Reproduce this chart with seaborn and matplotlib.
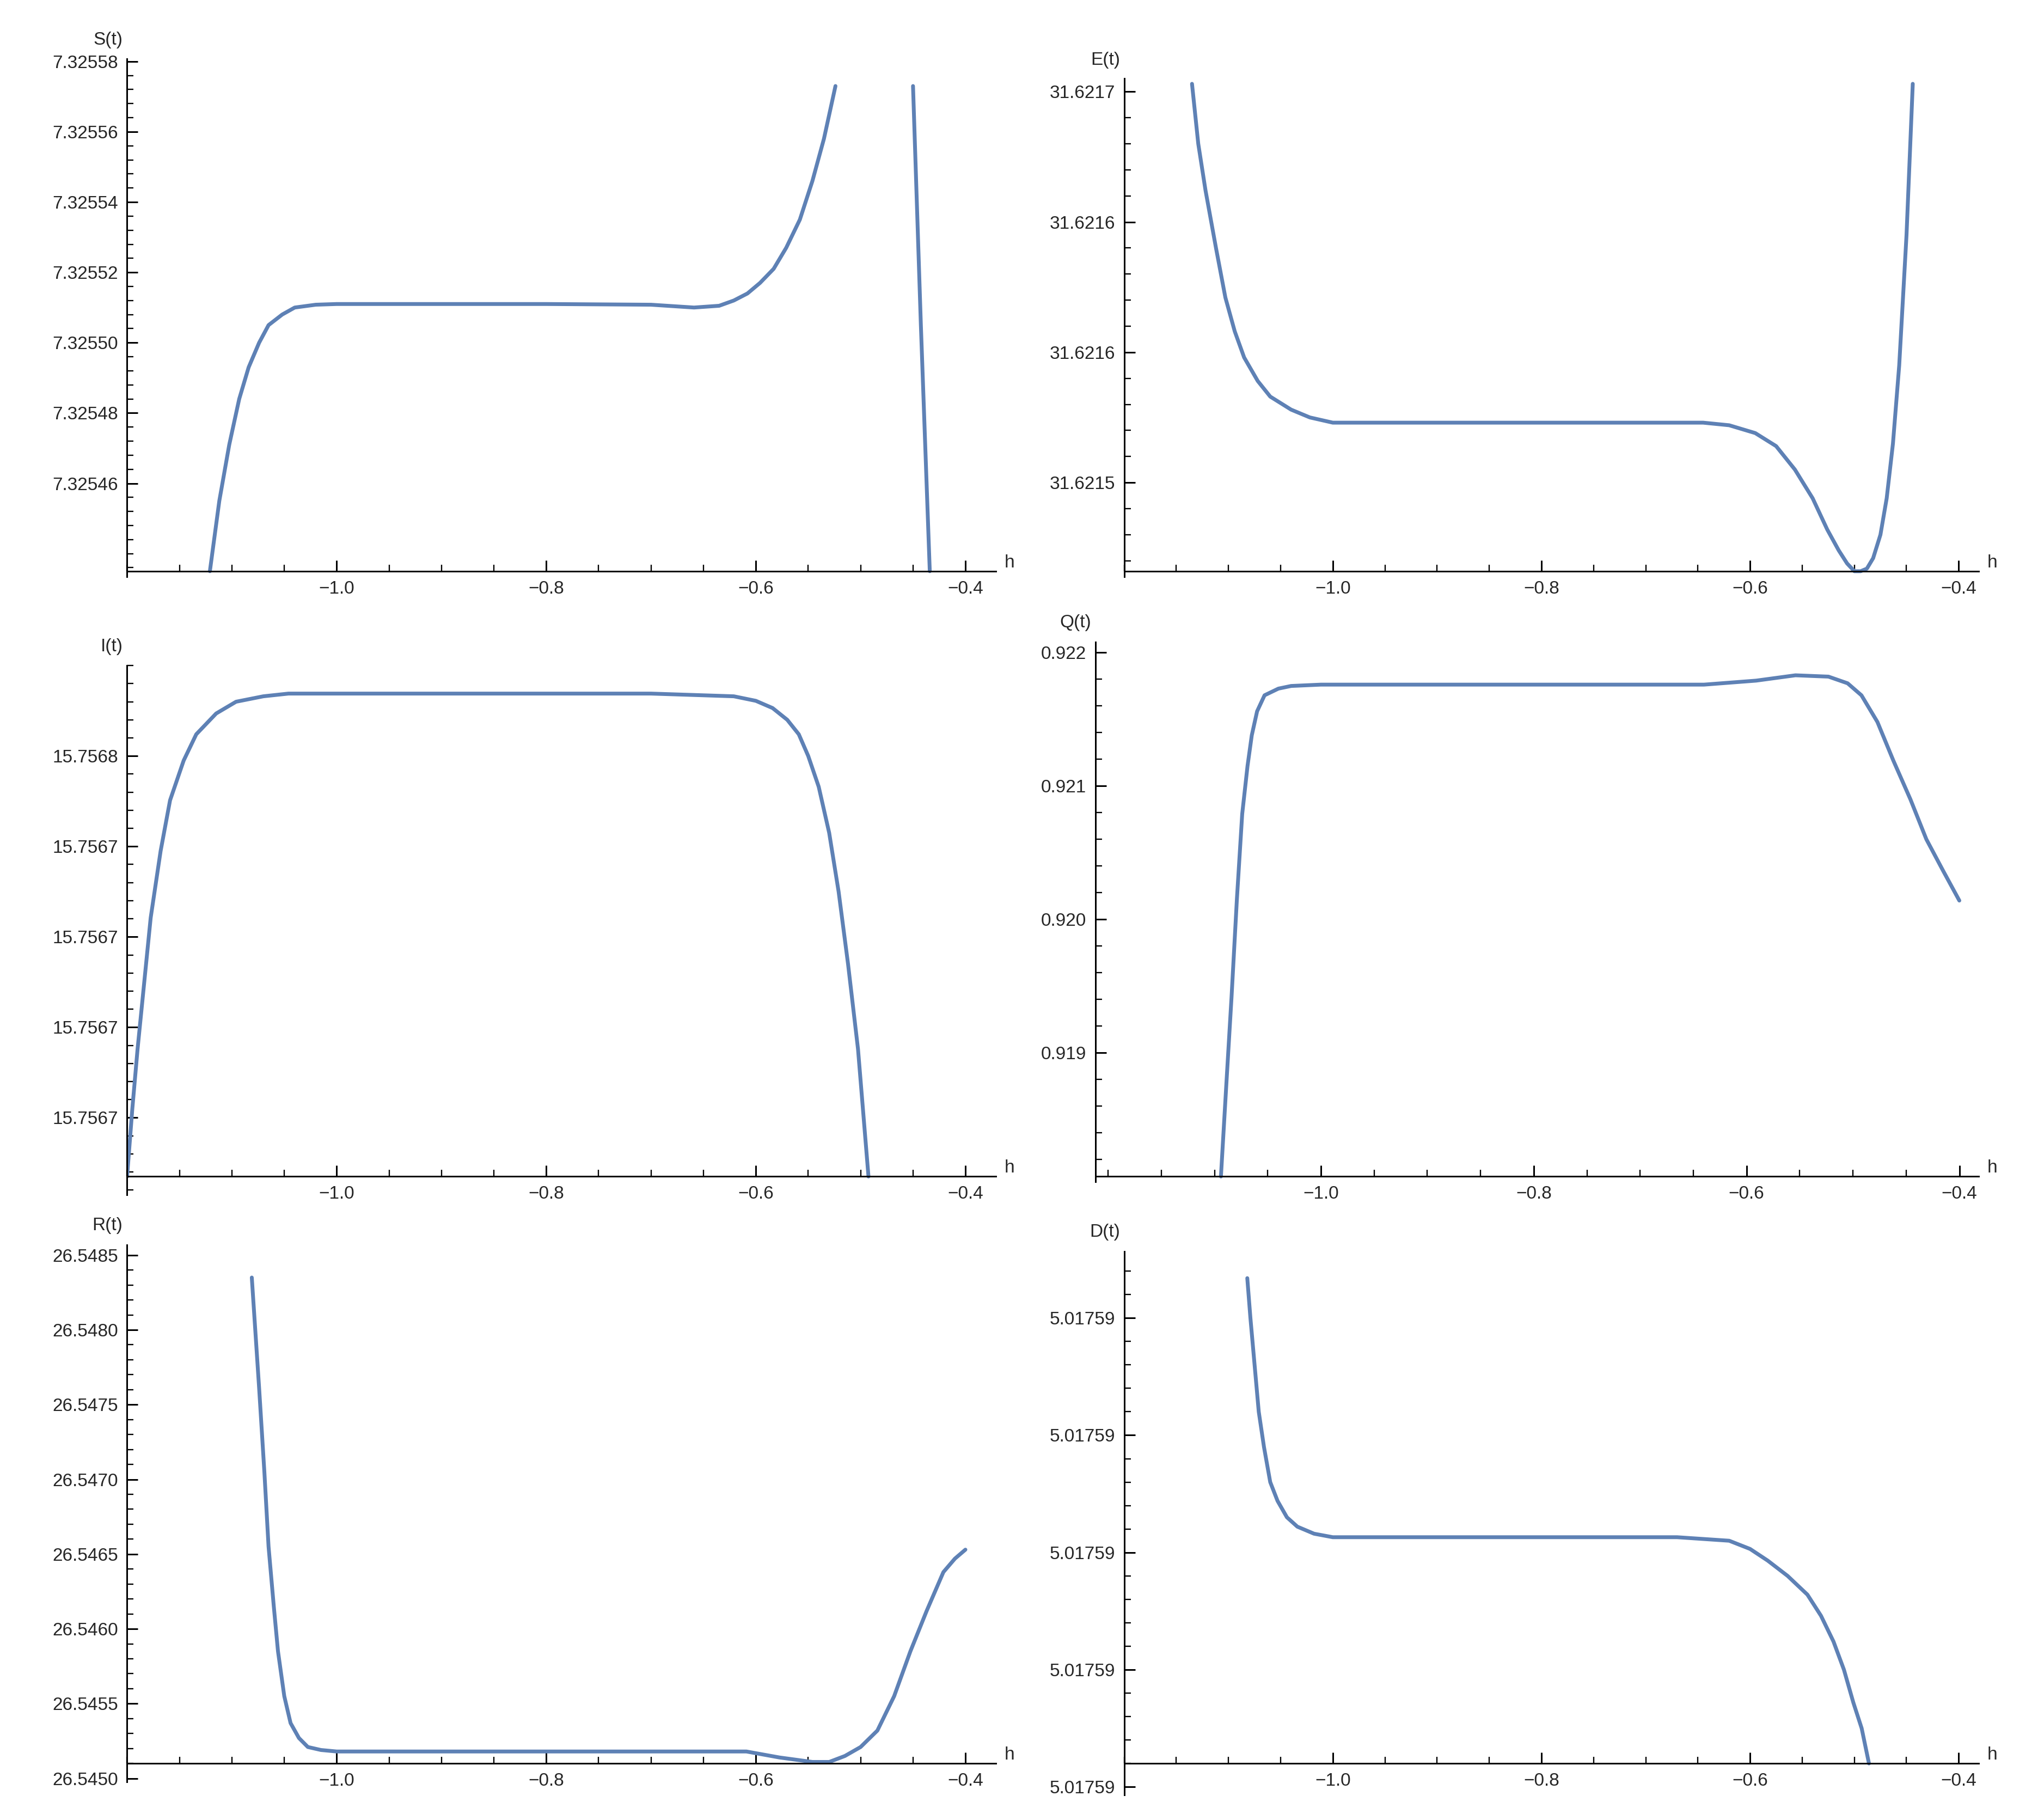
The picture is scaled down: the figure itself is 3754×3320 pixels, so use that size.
import numpy as np
import pandas as pd
import matplotlib
matplotlib.use("Agg")
import matplotlib.pyplot as plt
import seaborn as sns
from matplotlib.ticker import FixedLocator, FixedFormatter, AutoMinorLocator

sns.set_style("white")
plt.rcParams['font.family'] = ['Liberation Sans', 'DejaVu Sans']
plt.rcParams['font.size'] = 10

COLOR = "#5e81b5"

# ---- data ----
S_h1 = [-1.121, -1.112, -1.1025, -1.093, -1.084, -1.074, -1.065, -1.052, -1.04, -1.02, -1.0, -0.9, -0.8, -0.7, -0.659, -0.635, -0.621, -0.608, -0.596, -0.583, -0.571, -0.558, -0.546, -0.535, -0.524]
S_v1 = [7.325435, 7.325455, 7.325471, 7.325484, 7.325493, 7.325500, 7.325505, 7.325508, 7.325510, 7.3255108, 7.325511, 7.325511, 7.325511, 7.3255108, 7.325510, 7.3255105, 7.325512, 7.325514, 7.325517, 7.325521, 7.325527, 7.325535, 7.325546, 7.325558, 7.325573]
S_h2 = [-0.45, -0.4425, -0.434]
S_v2 = [7.325573, 7.325505, 7.325435]

E_h = [-1.135, -1.129, -1.122, -1.112, -1.103, -1.094, -1.085, -1.072, -1.06, -1.04, -1.022, -1.0, -0.9, -0.8, -0.7, -0.645, -0.62, -0.595, -0.575, -0.557, -0.54, -0.526, -0.515, -0.507, -0.5, -0.494, -0.488, -0.482, -0.475, -0.469, -0.463, -0.457, -0.45, -0.444]
E_v = [31.621703, 31.621680, 31.621662, 31.621640, 31.621621, 31.621608, 31.621598, 31.621589, 31.621583, 31.621578, 31.621575, 31.621573, 31.621573, 31.621573, 31.621573, 31.621573, 31.621572, 31.621569, 31.621564, 31.621555, 31.621544, 31.621532, 31.621524, 31.621519, 31.621516, 31.621516, 31.621517, 31.621521, 31.621530, 31.621544, 31.621565, 31.621595, 31.621645, 31.621703]

I_h = [-1.2, -1.195, -1.19, -1.1775, -1.168, -1.159, -1.146, -1.134, -1.115, -1.096, -1.07, -1.046, -0.9, -0.8, -0.7, -0.621, -0.6, -0.584, -0.57, -0.559, -0.55, -0.54, -0.53, -0.521, -0.512, -0.5025, -0.4925]
I_v = [15.7567035, 15.7567110, 15.7567176, 15.7567321, 15.7567395, 15.7567451, 15.7567495, 15.7567524, 15.7567547, 15.7567560, 15.7567566, 15.7567569, 15.7567569, 15.7567569, 15.7567569, 15.7567566, 15.7567561, 15.7567553, 15.7567540, 15.7567524, 15.7567500, 15.7567466, 15.7567415, 15.7567350, 15.7567270, 15.7567176, 15.7567035]

Q_h = [-1.094, -1.089, -1.084, -1.079, -1.074, -1.069, -1.065, -1.06, -1.053, -1.04, -1.028, -1.0, -0.9, -0.8, -0.7, -0.64, -0.591, -0.554, -0.523, -0.505, -0.492, -0.477, -0.462, -0.446, -0.431, -0.415, -0.4]
Q_v = [0.91807, 0.91875, 0.91942, 0.92015, 0.92079, 0.92115, 0.92138, 0.92156, 0.92168, 0.92173, 0.92175, 0.92176, 0.92176, 0.92176, 0.92176, 0.92176, 0.92179, 0.92183, 0.92182, 0.92177, 0.92168, 0.92148, 0.92119, 0.92090, 0.92060, 0.92036, 0.92014]

R_h = [-1.081, -1.074, -1.069, -1.065, -1.06, -1.056, -1.05, -1.044, -1.036, -1.0275, -1.015, -1.0, -0.9, -0.8, -0.7, -0.609, -0.5775, -0.546, -0.53, -0.515, -0.5, -0.484, -0.468, -0.4525, -0.437, -0.421, -0.41, -0.4]
R_v = [26.54835, 26.54761, 26.54705, 26.54655, 26.54615, 26.54585, 26.54555, 26.54537, 26.54527, 26.54521, 26.54519, 26.54518, 26.54518, 26.54518, 26.54518, 26.54518, 26.54514, 26.54511, 26.54511, 26.54515, 26.54521, 26.54532, 26.54555, 26.54585, 26.54612, 26.54638, 26.54647, 26.54653]

D_h = [-1.082, -1.079, -1.075, -1.071, -1.066, -1.06, -1.053, -1.044, -1.034, -1.018, -1.0, -0.9, -0.8, -0.67, -0.62, -0.6, -0.583, -0.564, -0.545, -0.532, -0.52, -0.51, -0.501, -0.493, -0.486]
D_v = [5.01759034, 5.0175900, 5.0175896, 5.0175892, 5.0175889, 5.0175886, 5.01758844, 5.0175883, 5.01758822, 5.01758816, 5.01758813, 5.01758813, 5.01758813, 5.01758813, 5.0175881, 5.01758803, 5.01758793, 5.0175878, 5.01758764, 5.01758746, 5.01758724, 5.017587, 5.01758672, 5.0175865, 5.0175862]

x_ticks = [-1.0, -0.8, -0.6, -0.4]
x_labels = ["\u22121.0", "\u22120.8", "\u22120.6", "\u22120.4"]

S_ticks = [7.32546, 7.32548, 7.32550, 7.32552, 7.32554, 7.32556, 7.32558]
S_labels = ["7.32546", "7.32548", "7.32550", "7.32552", "7.32554", "7.32556", "7.32558"]
E_ticks = [31.62155, 31.62160, 31.62165, 31.62170]
E_labels = ["31.6215", "31.6216", "31.6216", "31.6217"]
I_ticks = [15.75671, 15.75672, 15.75673, 15.75674, 15.75675]
I_labels = ["15.7567", "15.7567", "15.7567", "15.7567", "15.7568"]
Q_ticks = [0.919, 0.920, 0.921, 0.922]
Q_labels = ["0.919", "0.920", "0.921", "0.922"]
R_ticks = [26.5450, 26.5455, 26.5460, 26.5465, 26.5470, 26.5475, 26.5480, 26.5485]
R_labels = ["26.5450", "26.5455", "26.5460", "26.5465", "26.5470", "26.5475", "26.5480", "26.5485"]
D_ticks = [5.017586, 5.017587, 5.017588, 5.017589, 5.017590]
D_labels = ["5.01759"] * 5

W, H = 1560.0, 1380.0
fig = plt.figure(figsize=(3754 / 240, 3320 / 240), dpi=240)

# name, series, ticks, labels, px_top, px_axis, v_top, v_axis, px_left, px_right, xmin, xmax, extra_bottom_px
panels = [
    ("S(t)", [(S_h1, S_v1), (S_h2, S_v2)], S_ticks, S_labels, 45, 436, 7.3255807, 7.325435, 97, 760, -1.2, -0.371, 4),
    ("E(t)", [(E_h, E_v)], E_ticks, E_labels, 60, 436, 31.621705, 31.621516, 858, 1510, -1.2, -0.381, 4),
    ("I(t)", [(I_h, I_v)], I_ticks, I_labels, 508, 898, 15.75676, 15.7567035, 97, 760, -1.2, -0.371, 14),
    ("Q(t)", [(Q_h, Q_v)], Q_ticks, Q_labels, 490, 898, 0.92208, 0.91807, 836, 1510, -1.212, -0.382, 4),
    ("R(t)", [(R_h, R_v)], R_ticks, R_labels, 950, 1346, 26.54857, 26.54510, 97, 760, -1.2, -0.371, 14),
    ("D(t)", [(D_h, D_v)], D_ticks, D_labels, 955, 1346, 5.01759057, 5.0175862, 858, 1510, -1.2, -0.381, 24),
]

for name, series, ticks, labels, pt, pa, vt, va, pl, pr, xmin, xmax, extra in panels:
    pb = pa + extra
    vb = va - (vt - va) * extra / (pa - pt)
    ax = fig.add_axes([pl / W, 1 - pb / H, (pr - pl) / W, (pb - pt) / H])
    for hs, vs in series:
        df = pd.DataFrame({"h": hs, "v": vs})
        sns.lineplot(data=df, x="h", y="v", ax=ax, sort=False, estimator=None,
                     color=COLOR, linewidth=2.1)
    ax.set_xlim(xmin, xmax)
    ax.set_ylim(vb, vt)
    ax.set_xlabel("")
    ax.set_ylabel("")
    for s in ["top", "right"]:
        ax.spines[s].set_visible(False)
    ax.spines["bottom"].set_position(("data", va))
    ax.spines["left"].set_position(("data", xmin))
    for s in ["bottom", "left"]:
        ax.spines[s].set_linewidth(0.9)
        ax.spines[s].set_color("black")
    ax.xaxis.set_major_locator(FixedLocator(x_ticks))
    ax.xaxis.set_major_formatter(FixedFormatter(x_labels))
    ax.xaxis.set_minor_locator(AutoMinorLocator(4))
    ax.yaxis.set_major_locator(FixedLocator(ticks))
    ax.yaxis.set_major_formatter(FixedFormatter(labels))
    ax.yaxis.set_minor_locator(AutoMinorLocator(5))
    ax.tick_params(which="major", direction="in", length=6, width=0.9, labelsize=10, pad=5, color="black")
    ax.tick_params(which="minor", direction="in", length=3.5, width=0.7, color="black")
    ax.tick_params(axis="x", which="both", bottom=True)
    ax.tick_params(axis="y", which="both", left=True)
    ax.patch.set_alpha(0)
    ax.text(-0.005, 1.02, name, transform=ax.transAxes, ha="right", va="bottom", fontsize=10)
    ax.text(1.01, (va - vb) / (vt - vb), "h", transform=ax.transAxes, ha="left", va="bottom", fontsize=10)

fig.savefig("out.png", dpi=240, facecolor="white")
